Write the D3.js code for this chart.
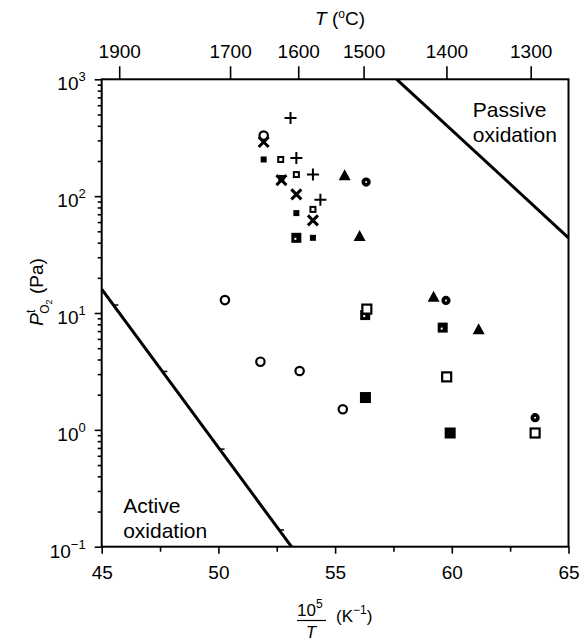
<!DOCTYPE html>
<html lang="en">
<head>
  <meta charset="utf-8" />
  <title>Oxidation map</title>
  <script src="https://d3js.org/d3.v7.min.js"></script>
  <style>
    body {
      margin: 0;
      padding: 0;
      background: #ffffff;
    }
    #chart svg text {
      font-family: "Liberation Sans", Arial, Helvetica, sans-serif;
      fill: #000;
    }
    .axis path { display: none; }
    .axis line { stroke: #000; stroke-width: 1.6; }
    .axis text { font-size: 19px; }
  </style>
</head>
<body>

<div id="chart"></div>

<script>
/* =========================
   DATA
   x = 10^5/T (K^-1), y = P_O2 (Pa)
   ========================= */
const xMajorTicks = [45, 50, 55, 60, 65];
const xMinorTicks = [47.5, 52.5, 57.5, 62.5];
const yMajorTicks = [0.1, 1, 10, 100, 1000];
const yExponents  = ["\u22121", "0", "1", "2", "3"];

// top axis: temperature labels and where they sit on the 10^5/T scale
const topLabels    = ["1900", "1700", "1600", "1500", "1400", "1300"];
const topPositions = [45.75, 50.5, 53.42, 56.22, 59.77, 63.38];

// boundary lines
const activeLine  = [[45, 16.0], [53.13, 0.1]];
const passiveLine = [[57.64, 1000], [65, 44]];
// small hatch marks on the active line
const activeHatch = [[45.5, 11.7], [47.6, 3.16], [50.05, 0.684], [52.6, 0.139]];

// measured points by symbol
const openCircle  = [[50.28, 12.9], [51.80, 3.83], [53.48, 3.19], [55.33, 1.50], [51.94, 330]];
const plusPts     = [[53.09, 467], [53.34, 212], [54.05, 153], [54.37, 93]];
const crossPts    = [[51.94, 291], [52.70, 137], [53.34, 103.5], [54.05, 62]];
const smallOpen   = [[52.67, 206], [53.34, 153], [54.05, 77]];
const smallFilled = [[51.94, 206], [52.70, 143], [53.34, 71.6], [54.05, 44]];
const dotSquare   = [[53.34, 44], [56.29, 9.6], [59.61, 7.5]];
const openSquare  = [[56.36, 10.8], [59.78, 2.84], [63.57, 0.94]];
const fillSquare  = [[56.30, 1.89], [59.93, 0.94]];
const trianglePts = [[55.41, 151], [56.05, 45.5], [59.22, 13.8], [61.15, 7.26]];
const ringPts     = [[56.33, 132], [59.75, 12.8], [63.57, 1.27]];

/* =========================
   SETUP
   ========================= */
const W = 582, H = 641;
const margin = { top: 79.3, right: 13.5, bottom: 94.3, left: 101.7 };
const width  = W - margin.left - margin.right,
      height = H - margin.top - margin.bottom;

const svg = d3.select("#chart")
  .append("svg")
  .attr("width", W)
  .attr("height", H);

const g = svg.append("g")
  .attr("transform", `translate(${margin.left},${margin.top})`);

const x = d3.scaleLinear().domain([45, 65]).range([0, width]);
const y = d3.scaleLog().domain([0.1, 1000]).range([height, 0]);

/* =========================
   AXES
   ========================= */
// bottom
g.append("g")
  .attr("class", "axis")
  .attr("transform", `translate(0,${height})`)
  .call(d3.axisBottom(x).tickValues(xMajorTicks).tickSize(7).tickPadding(12).tickFormat(d3.format("d")));

g.append("g")
  .attr("class", "axis")
  .attr("transform", `translate(0,${height})`)
  .call(d3.axisBottom(x).tickValues(xMinorTicks).tickSize(5).tickFormat(""));

// left: majors + minors
g.append("g")
  .attr("class", "axis")
  .call(d3.axisLeft(y).tickValues(yMajorTicks).tickSize(7).tickFormat(""));

const minorY = [];
yMajorTicks.slice(0, -1).forEach(base => {
  for (let k = 2; k <= 9; k++) minorY.push(base * k);
});
g.append("g")
  .attr("class", "axis")
  .call(d3.axisLeft(y).tickValues(minorY).tickSize(4).tickFormat(""));

// left labels: 10^n
const yLab = g.append("g").selectAll("text")
  .data(yMajorTicks)
  .enter()
  .append("text")
  .attr("x", -16)
  .attr("y", d => y(d) + 11)
  .attr("text-anchor", "end")
  .style("font-size", "19px");
yLab.append("tspan").text("10");
yLab.append("tspan")
  .attr("dy", -9)
  .style("font-size", "13px")
  .text((d, i) => yExponents[i]);

// top axis (temperature)
g.append("g")
  .attr("class", "axis")
  .call(d3.axisTop(x).tickValues(topPositions).tickSize(13).tickPadding(8)
    .tickFormat((d, i) => topLabels[i]));

// frame
g.append("rect")
  .attr("x", 0).attr("y", 0)
  .attr("width", width).attr("height", height)
  .attr("fill", "none")
  .attr("stroke", "#000")
  .attr("stroke-width", 2);

/* =========================
   BOUNDARY LINES
   ========================= */
const line = d3.line().x(d => x(d[0])).y(d => y(d[1]));

[activeLine, passiveLine].forEach(pts => {
  g.append("path")
    .attr("d", line(pts))
    .attr("fill", "none")
    .attr("stroke", "#000")
    .attr("stroke-width", 3);
});

g.selectAll(".hatch")
  .data(activeHatch)
  .enter()
  .append("line")
  .attr("x1", d => x(d[0]) - 1)
  .attr("x2", d => x(d[0]) + 5)
  .attr("y1", d => y(d[1]))
  .attr("y2", d => y(d[1]))
  .attr("stroke", "#000")
  .attr("stroke-width", 1.5);

/* =========================
   MARKERS
   ========================= */
function place(data, cls) {
  return g.selectAll("." + cls)
    .data(data)
    .enter()
    .append("g")
    .attr("class", cls)
    .attr("transform", d => `translate(${x(d[0])},${y(d[1])})`);
}

place(openCircle, "ocirc").append("circle")
  .attr("r", 4.2).attr("fill", "#fff").attr("stroke", "#000").attr("stroke-width", 2.2);

place(ringPts, "ring").append("circle")
  .attr("r", 2.8).attr("fill", "#fff").attr("stroke", "#000").attr("stroke-width", 3.6);

place(smallFilled, "sfill").append("rect")
  .attr("x", -3).attr("y", -3).attr("width", 6).attr("height", 6).attr("fill", "#000");

place(smallOpen, "sopen").append("rect")
  .attr("x", -2.5).attr("y", -2.5).attr("width", 5).attr("height", 5)
  .attr("fill", "#fff").attr("stroke", "#000").attr("stroke-width", 2);

place(crossPts, "cross").append("path")
  .attr("d", "M-5,-5L5,5M-5,5L5,-5")
  .attr("stroke", "#000").attr("stroke-width", 3).attr("fill", "none");

place(plusPts, "plus").append("path")
  .attr("d", "M-6,0L6,0M0,-6L0,6")
  .attr("stroke", "#000").attr("stroke-width", 2).attr("fill", "none");

const ds = place(dotSquare, "dsq");
ds.append("rect")
  .attr("x", -5).attr("y", -5).attr("width", 10).attr("height", 10).attr("fill", "#000");
ds.append("rect")
  .attr("x", -2).attr("y", 0).attr("width", 2).attr("height", 2).attr("fill", "#fff");

place(openSquare, "osq").append("rect")
  .attr("x", -4.5).attr("y", -4.5).attr("width", 9).attr("height", 9)
  .attr("fill", "#fff").attr("stroke", "#000").attr("stroke-width", 2.2);

place(fillSquare, "fsq").append("rect")
  .attr("x", -5.5).attr("y", -5.5).attr("width", 11).attr("height", 11).attr("fill", "#000");

place(trianglePts, "tri").append("path")
  .attr("d", "M0,-6L6,5L-6,5Z").attr("fill", "#000");

/* =========================
   TEXT
   ========================= */
// region labels
const act = g.append("text").style("font-size", "21px");
act.append("tspan").attr("x", x(45.92)).attr("y", y(0.1) - 34).text("Active");
act.append("tspan").attr("x", x(45.92)).attr("y", y(0.1) - 9).text("oxidation");

const pas = g.append("text").style("font-size", "21px");
pas.append("tspan").attr("x", x(60.9)).attr("y", 37.5).text("Passive");
pas.append("tspan").attr("x", x(60.9)).attr("y", 62.5).text("oxidation");

// top title T (°C)
const tt = svg.append("text")
  .attr("x", 340).attr("y", 25)
  .attr("text-anchor", "middle")
  .style("font-size", "19px");
tt.append("tspan").style("font-style", "italic").text("T");
tt.append("tspan").text(" (");
tt.append("tspan").attr("dy", -7).style("font-size", "12px").text("o");
tt.append("tspan").attr("dy", 7).text("C)");

// y title
const yt = svg.append("text")
  .attr("transform", "translate(43,292) rotate(-90)")
  .attr("text-anchor", "middle")
  .style("font-size", "19px");
yt.append("tspan").style("font-style", "italic").text("P");
yt.append("tspan").attr("dy", -8).style("font-size", "12px").text("t");
yt.append("tspan").attr("dx", -4).attr("dy", 14).style("font-size", "12px").text("O");
yt.append("tspan").attr("dy", 3).style("font-size", "9px").text("2");
yt.append("tspan").attr("dy", -9).text(" (Pa)");

// x title: 10^5 / T (K^-1)
const num = svg.append("text")
  .attr("x", 297).attr("y", 616)
  .style("font-size", "17px");
num.append("tspan").text("10");
num.append("tspan").attr("dy", -8).style("font-size", "12px").text("5");

svg.append("line")
  .attr("x1", 297).attr("x2", 326)
  .attr("y1", 620.5).attr("y2", 620.5)
  .attr("stroke", "#000").attr("stroke-width", 1.2);

svg.append("text")
  .attr("x", 311).attr("y", 638)
  .attr("text-anchor", "middle")
  .style("font-size", "17px")
  .style("font-style", "italic")
  .text("T");

const kl = svg.append("text")
  .attr("x", 336).attr("y", 622)
  .style("font-size", "17px");
kl.append("tspan").text("(K");
kl.append("tspan").attr("dy", -8).style("font-size", "12px").text("\u22121");
kl.append("tspan").attr("dy", 8).text(")");
</script>

</body>
</html>
